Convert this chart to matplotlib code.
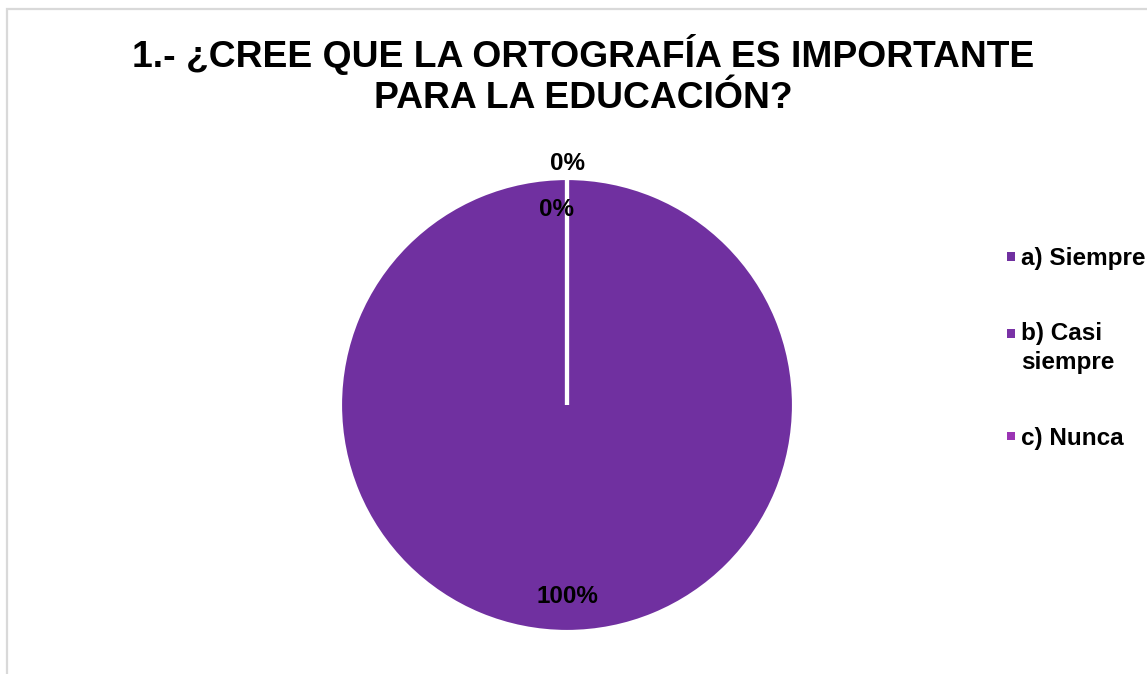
import numpy as np
import matplotlib.pyplot as plt
from matplotlib.patches import Rectangle

plt.rcParams['font.family'] = ['Liberation Sans', 'DejaVu Sans']

# datos de la encuesta
categorias = ['a) Siempre', 'b) Casi\nsiempre', 'c) Nunca']
porcentajes = [100, 0, 0]
colores = ['#7030A0', '#7A32A6', '#9B34B4']
titulo = '1.- ¿CREE QUE LA ORTOGRAFÍA ES IMPORTANTE\nPARA LA EDUCACIÓN?'

W, H = 1147, 674
fig = plt.figure(figsize=(W / 100, H / 100), dpi=100)

# marco gris del grafico
fig.patches.append(Rectangle((7 / W, -0.1), 1.2, 1 - 9 / H + 0.1, transform=fig.transFigure,
                             fill=False, edgecolor='#D9D9D9', linewidth=1.6))

fig.text(583 / W, 1 - 75 / H, titulo, ha='center', va='center', fontsize=26.8,
         fontweight='bold', linespacing=1.25)

# pastel
cx, cy, r = 567, 405, 227
ax = fig.add_axes([(cx - r) / W, (H - cy - r) / H, 2 * r / W, 2 * r / H])
wedges, _ = ax.pie(porcentajes, colors=colores, startangle=90, counterclock=False,
                   wedgeprops=dict(edgecolor='white', linewidth=3))
ax.set_xlim(-1, 1)
ax.set_ylim(-1, 1)
ax.set_aspect('equal')
ax.axis('off')

# etiquetas de porcentaje
dist = [0.845, 1.065, 0.86]
dx = [0.0, 0.0, -0.045]
for w, p, d, o in zip(wedges, porcentajes, dist, dx):
    ang = np.deg2rad((w.theta1 + w.theta2) / 2)
    ax.text(d * np.cos(ang) + o, d * np.sin(ang), f'{p}%', ha='center', va='center',
            fontsize=17.5, fontweight='bold', clip_on=False)

fs = 17.5
leg = fig.legend(wedges, categorias, loc='upper left', bbox_to_anchor=(985 / W, 1 - 225 / H),
                 frameon=False, prop=dict(weight='bold', size=fs),
                 handlelength=0.35, handleheight=0.7, handletextpad=0.25, labelspacing=2.15)
for t in leg.get_texts():
    t.set_linespacing(1.35)
# marcadores cuadrados
lado = 0.35 * fs
for i, h in enumerate(leg.legend_handles):
    h.set_edgecolor('none')
    h.set_height(lado)
    y = (0.7 * fs - lado) / 2
    if i == 1:
        y += 11  # la entrada de dos lineas lleva el marcador en la primera linea
    h.set_y(y)

fig.savefig('out.png', dpi=100)
